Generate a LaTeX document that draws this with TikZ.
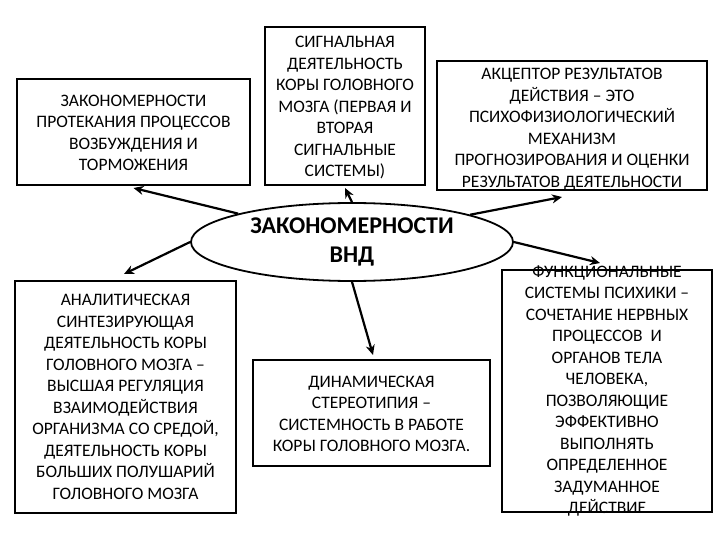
\documentclass[tikz,border=0pt]{standalone}
\usepackage{fontspec}
\setmainfont{Carlito}
\usetikzlibrary{shapes.geometric,arrows.meta}
\begin{document}
\begin{tikzpicture}[x=1pt,y=-1pt,
  frame/.style={draw,line width=1.8pt,rectangle,inner sep=0pt},
  label/.style={align=center,inner sep=0pt,font=\fontsize{17.5}{21.5}\selectfont},
  conn/.style={line width=2.2pt,-{Stealth[length=10pt,width=9pt]}}]
\useasboundingbox[fill=white] (0,0) rectangle (720,540);
% boxes
\node[frame,minimum width=233pt,minimum height=106pt] (box1) at (133.5,132) {};
\node[frame,minimum width=160pt,minimum height=158pt] (box2) at (345,106) {};
\node[frame,minimum width=270pt,minimum height=129pt] (box3) at (572,125.5) {};
\node[frame,minimum width=221pt,minimum height=232pt] (box4) at (125.5,397) {};
\node[frame,minimum width=237pt,minimum height=106pt] (box5) at (371.5,413) {};
\node[frame,minimum width=210pt,minimum height=242pt] (box6) at (607,391) {};
% texts
\node[label] (t1) at (133.5,133) {ЗАКОНОМЕРНОСТИ\\ПРОТЕКАНИЯ ПРОЦЕССОВ\\ВОЗБУЖДЕНИЯ И\\ТОРМОЖЕНИЯ};
\node[label] (t2) at (345,108) {СИГНАЛЬНАЯ\\ДЕЯТЕЛЬНОСТЬ\\КОРЫ ГОЛОВНОГО\\МОЗГА (ПЕРВАЯ И\\ВТОРАЯ\\СИГНАЛЬНЫЕ\\СИСТЕМЫ)};
\node[label] (t3) at (572,129) {АКЦЕПТОР РЕЗУЛЬТАТОВ\\ДЕЙСТВИЯ – ЭТО\\ПСИХОФИЗИОЛОГИЧЕСКИЙ\\МЕХАНИЗМ\\ПРОГНОЗИРОВАНИЯ И ОЦЕНКИ\\РЕЗУЛЬТАТОВ ДЕЯТЕЛЬНОСТИ};
\node[label] (t4) at (125.5,397) {АНАЛИТИЧЕСКАЯ\\СИНТЕЗИРУЮЩАЯ\\ДЕЯТЕЛЬНОСТЬ КОРЫ\\ГОЛОВНОГО МОЗГА –\\ВЫСШАЯ РЕГУЛЯЦИЯ\\ВЗАИМОДЕЙСТВИЯ\\ОРГАНИЗМА СО СРЕДОЙ,\\ДЕЯТЕЛЬНОСТЬ КОРЫ\\БОЛЬШИХ ПОЛУШАРИЙ\\ГОЛОВНОГО МОЗГА};
\node[label] (t5) at (371.5,414) {ДИНАМИЧЕСКАЯ\\СТЕРЕОТИПИЯ –\\СИСТЕМНОСТЬ В РАБОТЕ\\КОРЫ ГОЛОВНОГО МОЗГА.};
\node[label] (t6) at (607,391) {ФУНКЦИОНАЛЬНЫЕ\\СИСТЕМЫ ПСИХИКИ –\\СОЧЕТАНИЕ НЕРВНЫХ\\ПРОЦЕССОВ\ \ И\\ОРГАНОВ ТЕЛА\\ЧЕЛОВЕКА,\\ПОЗВОЛЯЮЩИЕ\\ЭФФЕКТИВНО\\ВЫПОЛНЯТЬ\\ОПРЕДЕЛЕННОЕ\\ЗАДУМАННОЕ\\ДЕЙСТВИЕ};
% centre
\node[draw,ellipse,line width=1.8pt,fill=white,minimum width=322pt,minimum height=78pt,inner sep=0pt,align=center,
  font=\bfseries\fontsize{24}{29}\selectfont] (ell) at (352,242) {ЗАКОНОМЕРНОСТИ\\ВНД};
% arrow ends
\coordinate (e1) at (133.5,188);
\coordinate (e2) at (345,188);
\coordinate (e3) at (562,197);
\coordinate (e4) at (124,274);
\coordinate (e5) at (373,355);
\coordinate (e6) at (600,263);
\draw[conn] (ell.166) -- (e1);
\draw[conn] (ell.north) -- (e2);
\draw[conn] (ell.13) -- (e3);
\draw[conn] (ell.west) -- (e4);
\draw[conn] (ell.south) -- (e5);
\draw[conn] (ell.east) -- (e6);
\end{tikzpicture}
\end{document}
